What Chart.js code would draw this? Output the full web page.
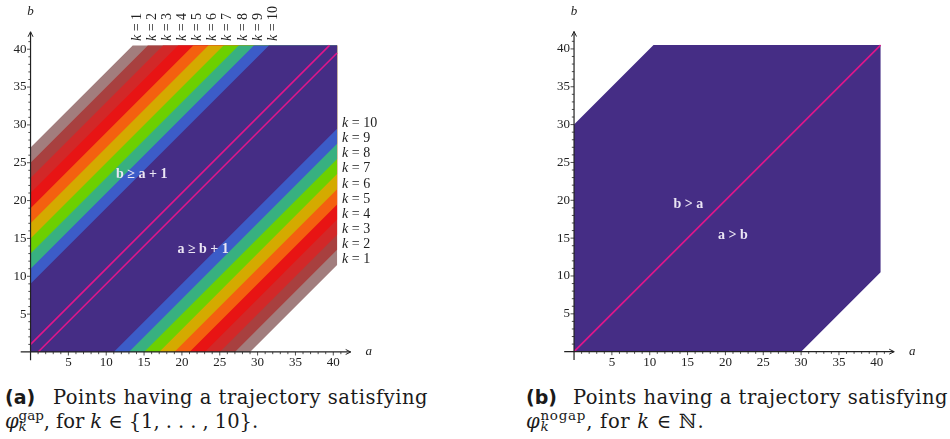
<!DOCTYPE html>
<html>
<head>
<meta charset="utf-8">
<script src="https://cdn.jsdelivr.net/npm/chart.js@4.4.1/dist/chart.umd.min.js"></script>
<style>
  body { margin: 0; background: #fff; width: 950px; height: 439px; overflow: hidden; position: relative; }
  canvas { position: absolute; top: 0; }
  #gapChart { left: 0; }
  #nogapChart { left: 480px; }
  .cap { position: absolute; font-family: "DejaVu Serif", serif; font-size: 19.5px; color: #1a1a1a; white-space: nowrap; line-height: 1; }
  .cap.lab { font-family: "DejaVu Sans", sans-serif; font-weight: bold; font-size: 19px; }
  .sup { position: relative; }
  .sup .hi { font-size: 13.5px; position: relative; top: -8px; }
  .sup .lo { font-size: 13.5px; position: absolute; left: 0; top: 10px; font-style: italic; }
</style>
</head>
<body>
<canvas id="gapChart" width="480" height="372"></canvas>
<canvas id="nogapChart" width="470" height="372"></canvas>

<div class="cap lab" style="left:5px;top:388px">(a)</div>
<div class="cap fit" data-w="375" style="left:53px;top:388px">Points having a trajectory satisfying</div>
<div class="cap fit" data-w="253" style="left:5px;top:412px"><i>φ</i><span class="sup"><span class="hi">gap</span><span class="lo">k</span></span>, for <i>k</i> ∈ {1, . . . , 10}.</div>
<div class="cap lab" style="left:526px;top:388px">(b)</div>
<div class="cap fit" data-w="375" style="left:573px;top:388px">Points having a trajectory satisfying</div>
<div class="cap fit" data-w="179" style="left:526px;top:412px"><i>φ</i><span class="sup"><span class="hi">nogap</span><span class="lo">k</span></span>, for <i>k</i> ∈ ℕ.</div>

<script>
// k levels, colours and band edges
const levels = [1, 2, 3, 4, 5, 6, 7, 8, 9, 10];
const bandColors = ["#a27d7d", "#a8403f", "#d22828", "#e81414", "#f4600f",
                    "#d4aa00", "#6cd000", "#38b080", "#3c5cc8", "#452d85"];
// region for level k reaches up to b - a = upperEdge, and down to a - b = lowerEdge
const upperEdge = [27, 25, 23, 21, 19, 17, 15, 13, 11, 9];
const lowerEdge = [29, 27, 25, 23, 21, 19, 17, 15, 13, 11];
const gapLines = [1, -1];      // b = a + offset
const nogapEdge = [30, 30];    // b - a <= 30, a - b <= 30
const nogapLines = [0];
const axisTicks = [5, 10, 15, 20, 25, 30, 35, 40];
const extent = 40.5;

const lineColor = "#e0168a";
const labelColor = "#ebe6f4";
const ink = "#222";

function clipPoly(poly, f) {
  const out = [];
  for (let i = 0; i < poly.length; i++) {
    const p = poly[i], q = poly[(i + 1) % poly.length];
    const fp = f(p), fq = f(q);
    if (fp >= 0) out.push(p);
    if ((fp >= 0) !== (fq >= 0)) {
      const t = fp / (fp - fq);
      out.push({ x: p.x + t * (q.x - p.x), y: p.y + t * (q.y - p.y) });
    }
  }
  return out;
}

function strip(up, down) {
  let poly = [{ x: 0, y: 0 }, { x: extent, y: 0 }, { x: extent, y: extent }, { x: 0, y: extent }];
  poly = clipPoly(poly, p => up - (p.y - p.x));
  poly = clipPoly(poly, p => down - (p.x - p.y));
  poly.push(poly[0]);
  return poly;
}

function diagonal(d) {
  return [
    { x: Math.max(0, -d), y: Math.max(0, d) },
    { x: Math.min(extent, extent - d), y: Math.min(extent, extent + d) }
  ];
}

function bandSet(data, color, order) {
  return { data, showLine: true, fill: "shape", backgroundColor: color,
           borderColor: "transparent", borderWidth: 0, pointRadius: 0, order };
}

function lineSet(data) {
  return { data, showLine: true, fill: false, borderColor: lineColor,
           borderWidth: 1.6, pointRadius: 0, order: 0 };
}

// draw text made of runs [text, font] starting at x
function drawRuns(ctx, runs, x, y, align) {
  let w = 0;
  runs.forEach(([t, f]) => { ctx.font = f; w += ctx.measureText(t).width; });
  let cx = align === "center" ? x - w / 2 : x;
  ctx.textAlign = "left";
  runs.forEach(([t, f]) => {
    ctx.font = f;
    ctx.fillText(t, cx, y);
    cx += ctx.measureText(t).width;
  });
}

const serif = "'Liberation Serif', serif";

const axesPlugin = {
  id: "axes",
  afterDraw(chart, args, opts) {
    const { ctx } = chart;
    const { x, y } = chart.scales;
    const x0 = x.getPixelForValue(0), y0 = y.getPixelForValue(0);
    const xl = x.getPixelForValue(x.min), xr = x.getPixelForValue(x.max);
    const yb = y.getPixelForValue(y.min), yt = y.getPixelForValue(y.max);
    ctx.save();
    ctx.strokeStyle = ink;
    ctx.fillStyle = ink;
    ctx.lineWidth = 1.2;
    ctx.beginPath();
    ctx.moveTo(xl, y0); ctx.lineTo(xr, y0);
    ctx.moveTo(x0, yb); ctx.lineTo(x0, yt);
    ctx.stroke();
    // arrow heads
    ctx.lineWidth = 1;
    ctx.beginPath();
    ctx.moveTo(xr - 5, y0 - 2.5); ctx.lineTo(xr, y0); ctx.lineTo(xr - 5, y0 + 2.5);
    ctx.moveTo(x0 - 2.5, yt + 5); ctx.lineTo(x0, yt); ctx.lineTo(x0 + 2.5, yt + 5);
    ctx.stroke();
    // minor ticks at every integer
    ctx.lineWidth = 0.8;
    ctx.beginPath();
    for (let v = 1; v <= 41; v++) {
      const px = x.getPixelForValue(v), py = y.getPixelForValue(v);
      const len = v % 5 === 0 ? 3.5 : 2.2;
      ctx.moveTo(px, y0); ctx.lineTo(px, y0 + len);
      ctx.moveTo(x0, py); ctx.lineTo(x0 - len, py);
    }
    ctx.stroke();
    // tick labels
    ctx.font = "13px " + serif;
    ctx.textBaseline = "middle";
    axisTicks.forEach(v => {
      ctx.textAlign = "center";
      ctx.fillText(String(v), x.getPixelForValue(v), y0 + 11);
      ctx.textAlign = "right";
      ctx.fillText(String(v), x0 - 4, y.getPixelForValue(v));
    });
    // axis names
    ctx.font = "italic 13px " + serif;
    ctx.textAlign = "center";
    ctx.fillText("a", xr + 18, y0);
    ctx.fillText("b", x0, yt - 20);

    // region labels
    ctx.fillStyle = labelColor;
    (opts.regions || []).forEach(r => {
      ctx.font = "bold 14px " + serif;
      ctx.textAlign = "center";
      ctx.fillText(r.text, x.getPixelForValue(r.a), y.getPixelForValue(r.b));
    });

    // k labels
    ctx.fillStyle = ink;
    const kf = "italic 14px " + serif, nf = "14px " + serif;
    if (opts.kLabels) {
      levels.forEach((k, i) => {
        const runs = [["k", kf], [" = ", nf], [String(k), nf]];
        // above the plot, rotated
        ctx.save();
        ctx.translate(x.getPixelForValue(extent - upperEdge[i] + 0.55), 41);
        ctx.rotate(-Math.PI / 2);
        drawRuns(ctx, runs, 0, 0, "left");
        ctx.restore();
        // right of the plot
        drawRuns(ctx, runs, x.getPixelForValue(extent) + 5,
                 y.getPixelForValue(extent - lowerEdge[i] + 0.7), "left");
      });
    }
    ctx.restore();
  }
};

function makeChart(id, datasets, padding, extras) {
  return new Chart(document.getElementById(id), {
    type: "scatter",
    data: { datasets },
    options: {
      responsive: false,
      animation: false,
      events: [],
      layout: { padding },
      scales: {
        x: { type: "linear", min: -1.3, max: 42.3, display: false },
        y: { type: "linear", min: -1.1, max: 42.3, display: false }
      },
      plugins: {
        legend: { display: false },
        tooltip: { enabled: false },
        axes: extras
      }
    },
    plugins: [axesPlugin]
  });
}

// (a) gap
const gapSets = levels.map((k, i) => bandSet(strip(upperEdge[i], lowerEdge[i]), bandColors[i], 100 - i));
gapLines.forEach(d => gapSets.push(lineSet(diagonal(d))));
makeChart("gapChart", gapSets,
  { left: 20.7, right: 129.3, top: 31.8, bottom: 11.7 },
  { kLabels: true,
    regions: [{ text: "b ≥ a + 1", a: 14.7, b: 23.5 }, { text: "a ≥ b + 1", a: 22.8, b: 13.5 }] });

// (b) nogap
const nogapSets = [bandSet(strip(nogapEdge[0], nogapEdge[1]), bandColors[9], 10)];
nogapLines.forEach(d => nogapSets.push(lineSet(diagonal(d))));
makeChart("nogapChart", nogapSets,
  { left: 84.2, right: 55.8, top: 31.5, bottom: 12 },
  { kLabels: false,
    regions: [{ text: "b > a", a: 15.1, b: 19.5 }, { text: "a > b", a: 21.0, b: 15.4 }] });

// stretch caption lines to the widths seen in the picture
document.querySelectorAll(".fit").forEach(el => {
  const w = el.getBoundingClientRect().width;
  const n = el.textContent.length;
  el.style.letterSpacing = ((+el.dataset.w - w) / n) + "px";
});
</script>
</body>
</html>
